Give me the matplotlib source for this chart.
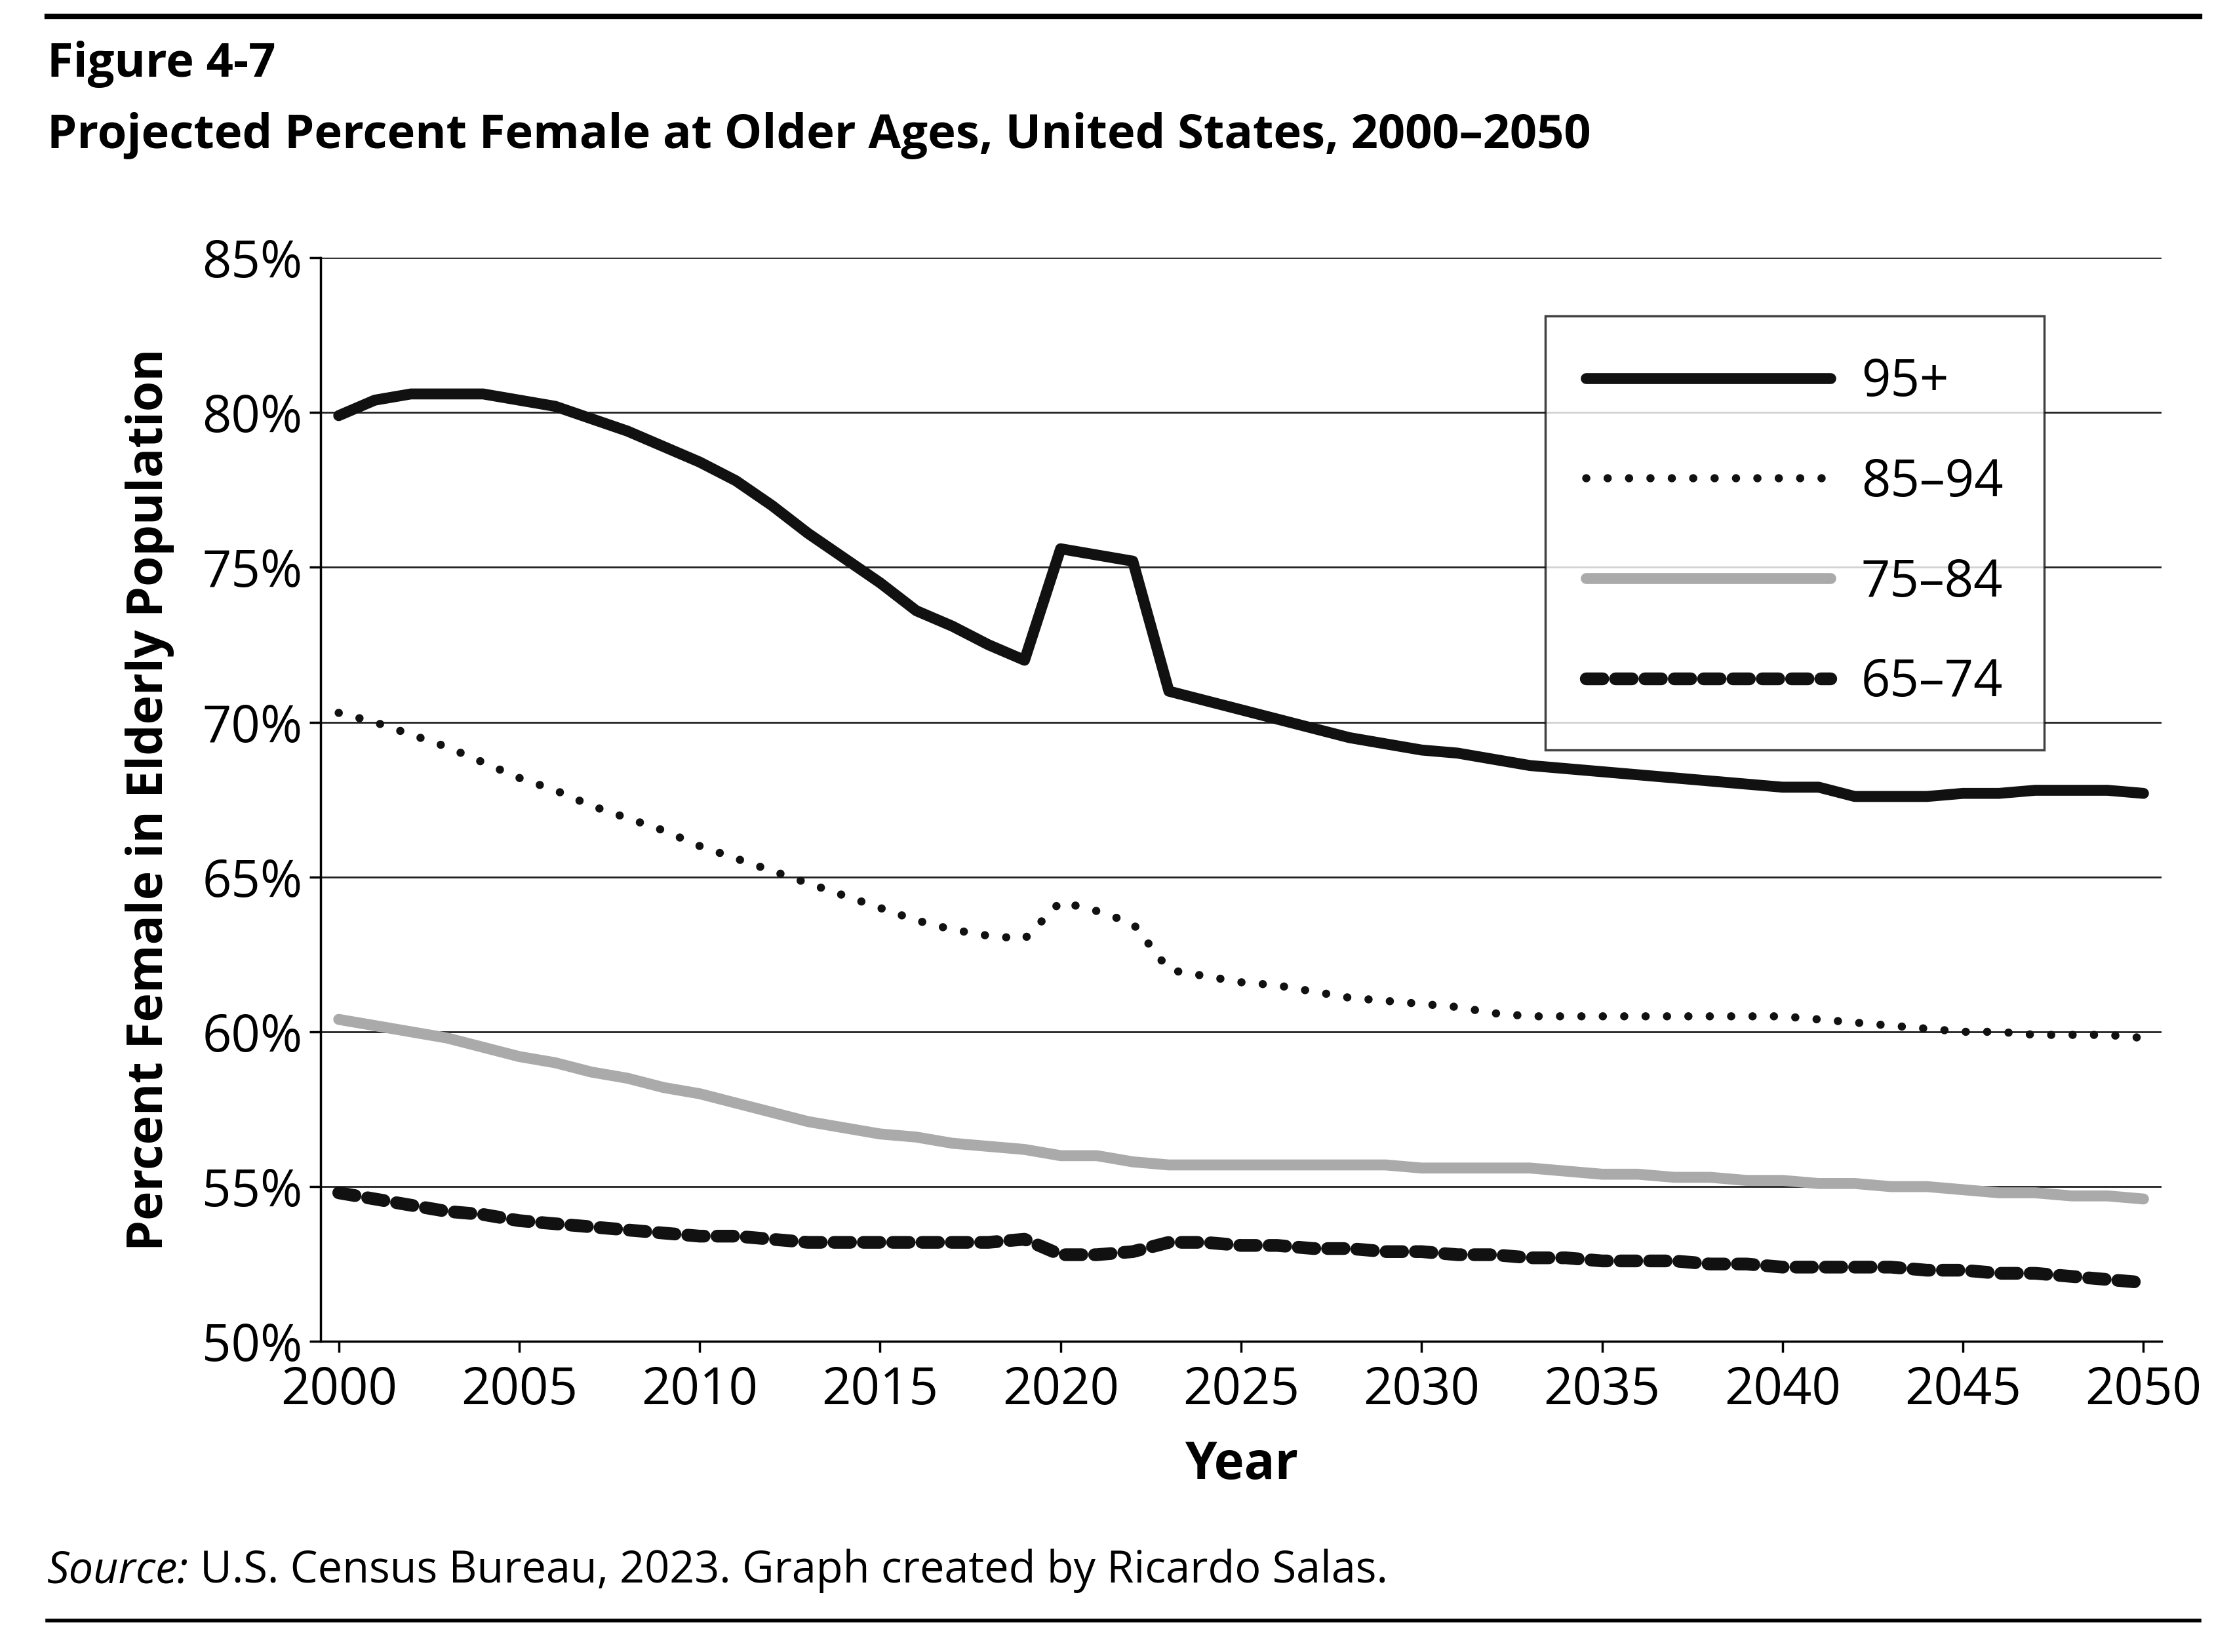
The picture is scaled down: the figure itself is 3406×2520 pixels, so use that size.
import matplotlib
matplotlib.use("Agg")
import matplotlib.pyplot as plt
import numpy as np

years = list(range(2000, 2051))
age95 = [79.9,80.4,80.6,80.6,80.6,80.4,80.2,79.8,79.4,78.9,78.4,77.8,77.0,76.1,75.3,74.5,73.6,73.1,72.5,72.0,
         75.6,75.4,75.2,71.0,70.7,70.4,70.1,69.8,69.5,69.3,69.1,69.0,68.8,68.6,68.5,68.4,68.3,68.2,68.1,68.0,
         67.9,67.9,67.6,67.6,67.6,67.7,67.7,67.8,67.8,67.8,67.7]
age85 = [70.3,70.0,69.6,69.2,68.7,68.2,67.8,67.3,66.9,66.5,66.0,65.6,65.2,64.8,64.4,64.0,63.6,63.3,63.1,63.0,
         64.2,63.9,63.5,62.0,61.8,61.6,61.5,61.3,61.1,61.0,60.9,60.8,60.6,60.5,60.5,60.5,60.5,60.5,60.5,60.5,
         60.5,60.4,60.3,60.2,60.1,60.0,60.0,59.9,59.9,59.9,59.8]
age75 = [60.4,60.2,60.0,59.8,59.5,59.2,59.0,58.7,58.5,58.2,58.0,57.7,57.4,57.1,56.9,56.7,56.6,56.4,56.3,56.2,
         56.0,56.0,55.8,55.7,55.7,55.7,55.7,55.7,55.7,55.7,55.6,55.6,55.6,55.6,55.5,55.4,55.4,55.3,55.3,55.2,
         55.2,55.1,55.1,55.0,55.0,54.9,54.8,54.8,54.7,54.7,54.6]
age65 = [54.8,54.6,54.4,54.2,54.1,53.9,53.8,53.7,53.6,53.5,53.4,53.4,53.3,53.2,53.2,53.2,53.2,53.2,53.2,53.3,
         52.8,52.8,52.9,53.2,53.2,53.1,53.1,53.0,53.0,52.9,52.9,52.8,52.8,52.7,52.7,52.6,52.6,52.6,52.5,52.5,
         52.4,52.4,52.4,52.4,52.3,52.3,52.2,52.2,52.1,52.0,51.9]
labels = ["95+", "85–94", "75–84", "65–74"]
yticks = [50, 55, 60, 65, 70, 75, 80, 85]
xticks = list(range(2000, 2051, 5))

plt.rcParams['font.family'] = ['Open Sans', 'DejaVu Sans']
fig = plt.figure(figsize=(34.06, 25.2), dpi=100)
ax = fig.add_axes([0.1436, 0.188, 0.8244, 0.656])

kw = dict(solid_joinstyle='round', solid_capstyle='round', dash_joinstyle='round')
ax.plot(years, age95, color='#111111', lw=12, label=labels[0], **kw)
ax.plot(years, age85, color='#111111', lw=9, ls=(0, (0.01, 2.6)), dash_capstyle='round',
        label=labels[1], solid_joinstyle='round')
ax.plot(years, age75, color='#aaaaaa', lw=12, label=labels[2], **kw)
ax.plot(years, age65, color='#111111', lw=14, ls=(0, (1.3, 1.0)), dash_capstyle='round',
        label=labels[3], solid_joinstyle='round')

ax.set_xlim(1999.5, 2050.5)
ax.set_ylim(50, 85)
ax.set_yticks(yticks)
ax.set_yticklabels([f"{v}%" for v in yticks])
ax.set_xticks(xticks)
ax.set_xticklabels([str(x) for x in xticks])
ax.tick_params(labelsize=56, length=12, width=2.5, direction='out')
ax.tick_params(axis='y', pad=8)
ax.tick_params(axis='x', pad=14)
ax.grid(axis='y', color='#222222', lw=2)
ax.set_axisbelow(True)
for s in ['top', 'right']:
    ax.spines[s].set_visible(False)
for s in ['left', 'bottom']:
    ax.spines[s].set_linewidth(2.5)
ax.set_xlabel("Year", fontsize=56, fontweight='bold', labelpad=25)
ax.set_ylabel("Percent Female in Elderly Population", fontsize=54, fontweight='bold', labelpad=30)

leg = ax.legend(loc='upper right', bbox_to_anchor=(0.95, 0.97), fontsize=56, frameon=True,
                fancybox=False, edgecolor='#111111', handlelength=4.8, labelspacing=0.95,
                borderpad=0.8, handletextpad=0.6)
leg.get_frame().set_linewidth(2.5)

fig.text(0.021, 0.961, "Figure 4-7", fontsize=52, fontweight='bold', va='center')
fig.text(0.021, 0.918, "Projected Percent Female at Older Ages, United States, 2000–2050",
         fontsize=52, fontweight='bold', va='center')
t = fig.text(0.021, 0.042, "Source:", fontsize=48, style='italic', va='baseline')
fig.canvas.draw()
ax.annotate(" U.S. Census Bureau, 2023. Graph created by Ricardo Salas.", xy=(1, 0),
            xycoords=t, fontsize=48, va='bottom', ha='left', annotation_clip=False)
fig.lines.append(plt.Line2D([0.021, 0.985], [0.99, 0.99], transform=fig.transFigure, color='black', lw=6))
fig.lines.append(plt.Line2D([0.021, 0.985], [0.019, 0.019], transform=fig.transFigure, color='black', lw=4))
fig.savefig("out.png", dpi=100)
